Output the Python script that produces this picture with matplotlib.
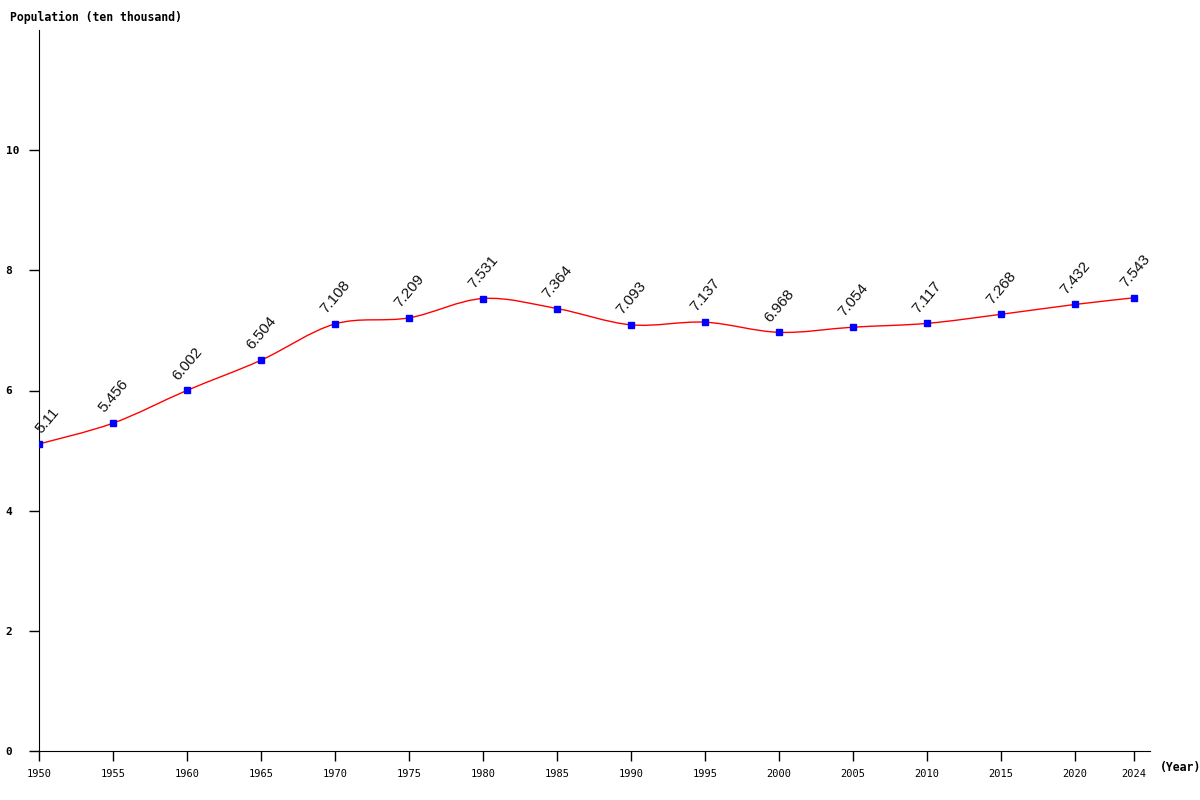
import matplotlib
matplotlib.use("Agg")
import matplotlib.pyplot as plt
import numpy as np
from matplotlib.path import Path
from matplotlib.patches import PathPatch

years = [1950, 1955, 1960, 1965, 1970, 1975, 1980, 1985, 1990, 1995,
         2000, 2005, 2010, 2015, 2020, 2024]
population = [5.11, 5.456, 6.002, 6.504, 7.108, 7.209, 7.531, 7.364, 7.093, 7.137,
              6.968, 7.054, 7.117, 7.268, 7.432, 7.543]
labels = ["5.11", "5.456", "6.002", "6.504", "7.108", "7.209", "7.531", "7.364",
          "7.093", "7.137", "6.968", "7.054", "7.117", "7.268", "7.432", "7.543"]
y_ticks = [0, 2, 4, 6, 8, 10]

fig = plt.figure(figsize=(12, 8), dpi=100)
ax = fig.add_axes([39 / 1200, 1 - 751 / 800, (1150 - 39) / 1200, (751 - 30) / 800])

# smooth curve through the points (Catmull-Rom as cubic Bezier segments)
x = np.array(years, dtype=float)
y = np.array(population, dtype=float)
verts = [(x[0], y[0])]
codes = [Path.MOVETO]
for i in range(len(x) - 1):
    p0 = (x[max(i - 1, 0)], y[max(i - 1, 0)])
    p1 = (x[i], y[i])
    p2 = (x[i + 1], y[i + 1])
    p3 = (x[min(i + 2, len(x) - 1)], y[min(i + 2, len(x) - 1)])
    c1 = (p1[0] + (p2[0] - p0[0]) / 6, p1[1] + (p2[1] - p0[1]) / 6)
    c2 = (p2[0] - (p3[0] - p1[0]) / 6, p2[1] - (p3[1] - p1[1]) / 6)
    verts += [c1, c2, p2]
    codes += [Path.CURVE4] * 3
ax.add_patch(PathPatch(Path(verts, codes), facecolor="none", edgecolor="red", lw=1))

ax.plot(years, population, linestyle="none", marker="s", markersize=4,
        color="blue", zorder=3)

for i, (xi, yi, lab) in enumerate(zip(years, population, labels)):
    dx = 2 if i == 0 else -6  # first label kept right of the y axis
    ax.annotate(lab, (xi, yi), xytext=(dx, 7), textcoords="offset points",
                rotation=50, ha="left", va="baseline", fontsize=11,
                family="Liberation Sans", rotation_mode="anchor", color="#111111")

ax.set_xlim(1950, 2025.07)
ax.set_ylim(0, 12)
ax.set_xticks(years)
ax.set_xticklabels([str(v) for v in years], family="DejaVu Sans Mono", fontsize=7.5)
ax.set_yticks(y_ticks)
ax.set_yticklabels([str(v) for v in y_ticks], family="DejaVu Sans Mono",
                   fontsize=8, fontweight="bold", ha="left")
ax.tick_params(axis="both", direction="out", length=7, width=1, pad=6)
ax.tick_params(axis="y", pad=17)

for side in ("top", "right"):
    ax.spines[side].set_visible(False)

fig.text(10 / 1200, 1 - 17 / 800, "Population (ten thousand)", family="DejaVu Sans Mono",
         fontsize=8.3, fontweight="bold", va="center", ha="left")
fig.text(1160 / 1200, 1 - 767 / 800, "(Year)", family="DejaVu Sans Mono",
         fontsize=8.3, fontweight="bold", va="center", ha="left")

fig.savefig("out.png", dpi=100)
